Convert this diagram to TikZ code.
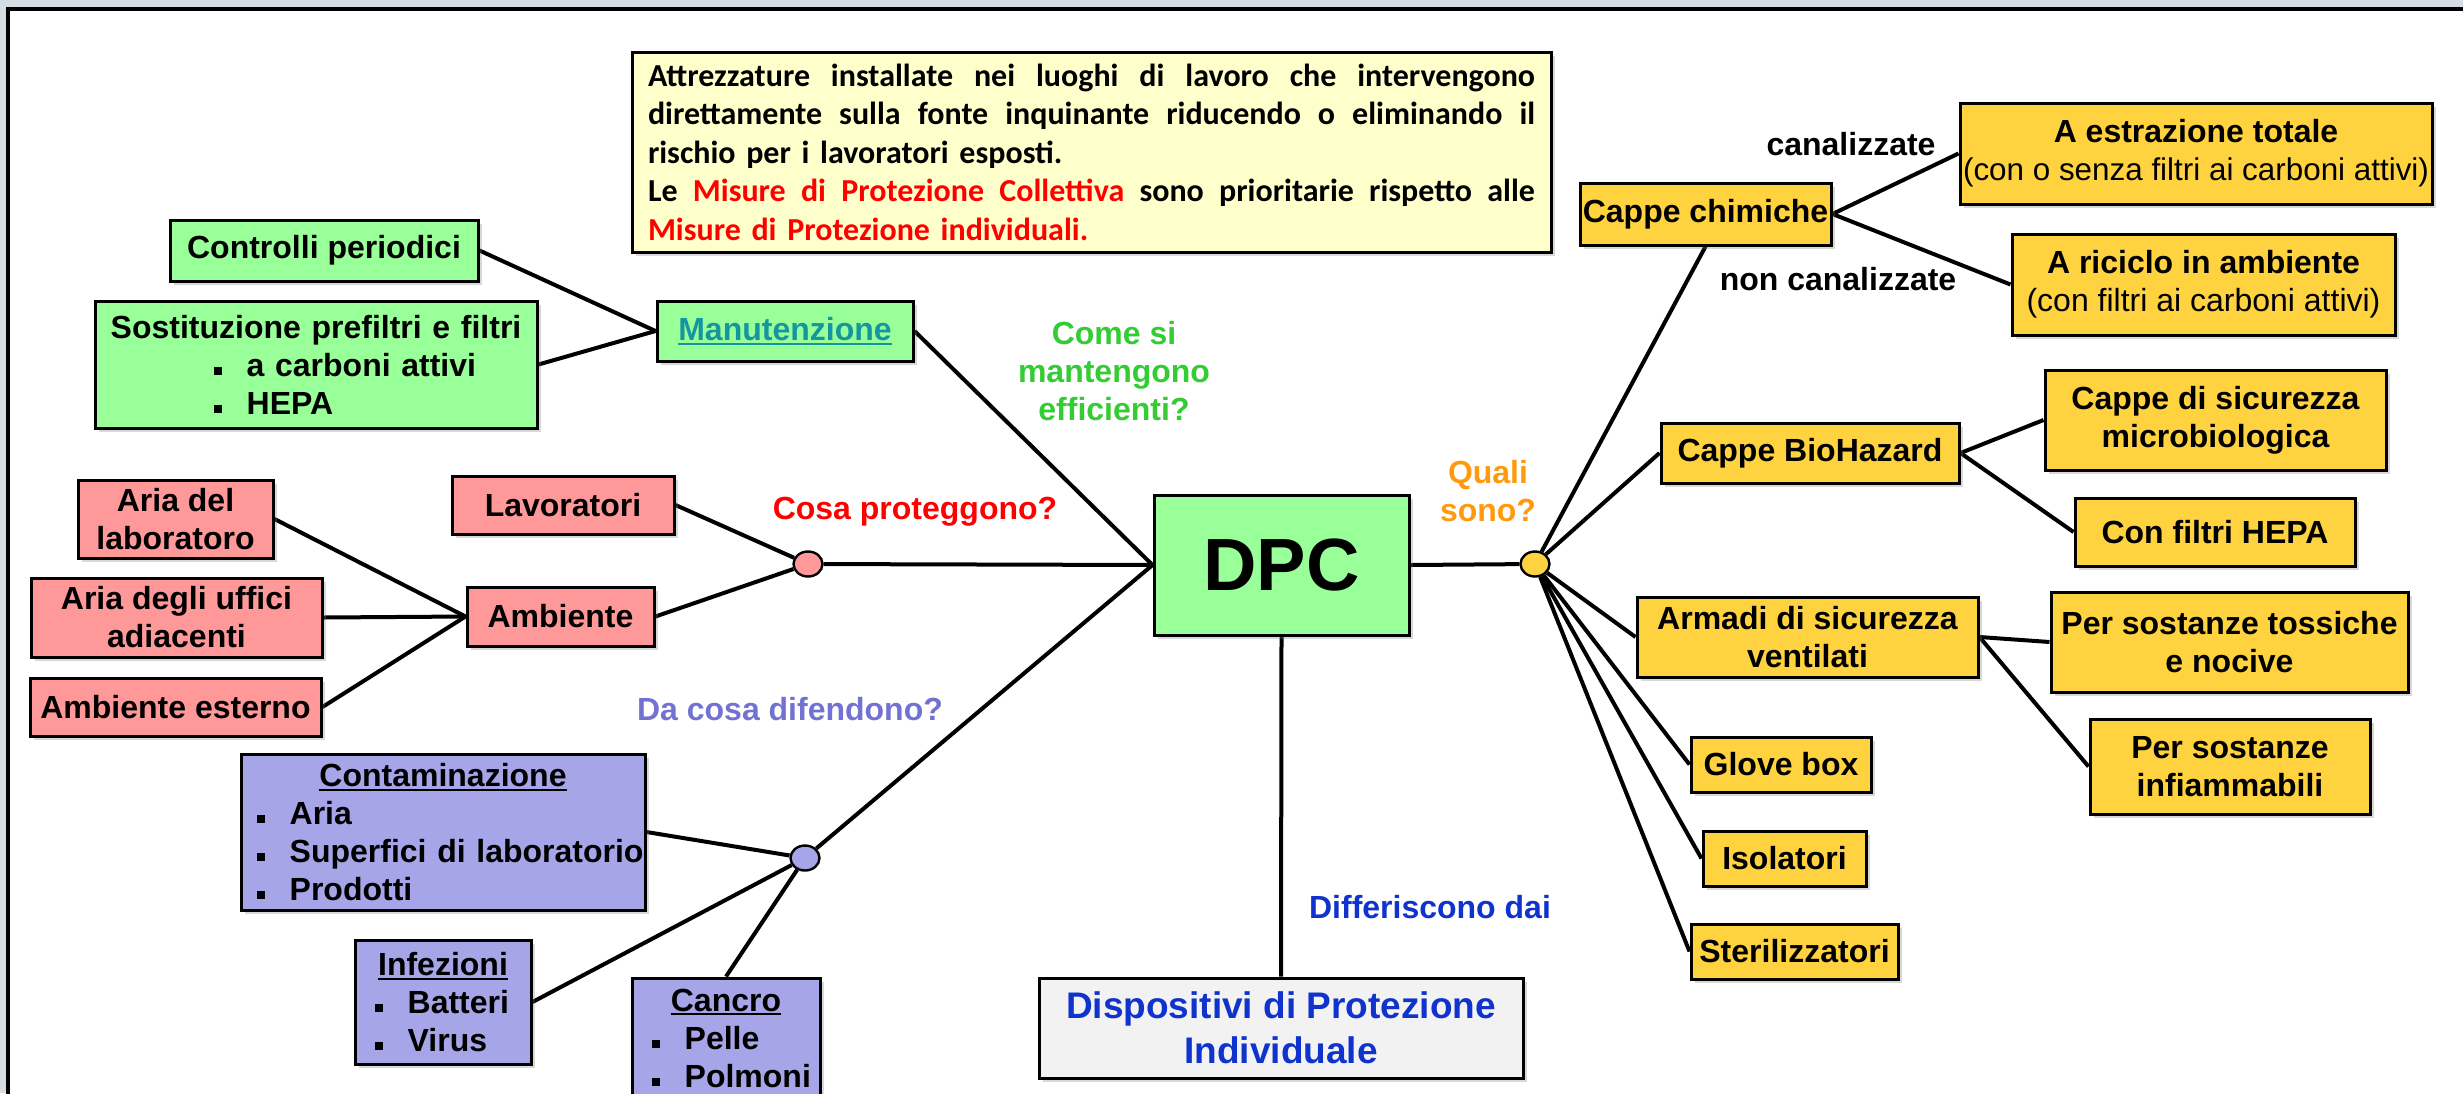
\documentclass[tikz,border=0pt]{standalone}
\usepackage{fontspec}
\setmainfont{Liberation Sans}
\newfontfamily\calib{Carlito}
\usetikzlibrary{shapes.geometric,shadows}
\definecolor{gfill}{HTML}{99FF99}
\definecolor{rfill}{HTML}{FF9999}
\definecolor{lfill}{HTML}{A5A5E8}
\definecolor{yfill}{HTML}{FFD23F}
\definecolor{nfill}{HTML}{FFFFCC}
\definecolor{dpifill}{HTML}{F2F2F2}
\definecolor{linkc}{HTML}{1496A0}
\definecolor{qgreen}{HTML}{33CC33}
\definecolor{qorange}{HTML}{FF9A0E}
\definecolor{qblue}{HTML}{7272D2}
\definecolor{dblue}{HTML}{0F33CC}
\definecolor{stripc}{HTML}{D5DCE4}
\newcommand\sqb{\raisebox{0.04em}{\rule{0.24em}{0.24em}}}
\newcommand\uln[1]{\setbox0\hbox{#1}\rlap{\rule[-2.2pt]{\wd0}{1pt}}\box0}
\newcommand\itm[1]{\mbox{\sqb\hspace{12.5pt}#1}}
\newcommand\jline[1]{\leavevmode\hbox to 443.5pt{\spaceskip=0pt\xspaceskip=0pt\relax #1}}
\newcommand\bx[7]{\node[#6, minimum width={(#4-#2)*0.5pt}, minimum height={(#5-#3)*0.5pt}] (#1) at ({(#2+#4)/2},{(#3+#5)/2}) {#7};}
\pgfdeclarelayer{back}
\pgfdeclarelayer{bg}
\pgfsetlayers{back,bg,main}
\tikzset{
  basebox/.style={draw, line width=1.5pt, inner sep=0pt, align=center,
    font=\fontsize{16}{19}\selectfont\bfseries,
    drop shadow={shadow xshift=2pt, shadow yshift=-2pt, opacity=0.3}},
  gbox/.style={basebox, fill=gfill},
  rbox/.style={basebox, fill=rfill},
  lbox/.style={basebox, fill=lfill},
  ybox/.style={basebox, fill=yfill},
  dotnode/.style={ellipse, draw, line width=1.2pt, inner sep=0pt, minimum width=14.5pt, minimum height=12.5pt},
  conn/.style={line width=2pt},
  lbl/.style={font=\fontsize{16}{19}\selectfont\bfseries, inner sep=0pt, anchor=base},
  mlbl/.style={font=\fontsize{16}{19}\selectfont\bfseries, inner sep=0pt, align=center},
}
\begin{document}
\begin{tikzpicture}[x=0.5pt,y=-0.5pt]
\useasboundingbox (0,0) rectangle (2463,1093);
\begin{pgfonlayer}{back}
  \fill[stripc] (0,0) rectangle (2463,1093);
  \fill[white] (7.5,9) rectangle (2480,1110);
  \draw[line width=2pt] (7.5,1110) -- (7.5,9) -- (2480,9);
\end{pgfonlayer}

% note
\bx{note}{632}{52}{1551}{252}{basebox, fill=nfill, align=left, text width=443.5pt, font=\calib\fontsize{16}{19.25}\selectfont\bfseries}{%
\jline{Attrezzature installate nei luoghi di lavoro che intervengono}\\
\jline{direttamente sulla fonte inquinante riducendo o eliminando il}\\
\mbox{rischio per i lavoratori esposti.}\\
\jline{Le \textcolor{red}{Misure di Protezione Collettiva} sono prioritarie rispetto alle}\\
\mbox{\textcolor{red}{Misure di Protezione individuali.}}}

% green
\bx{ctrl}{170}{220}{478}{281}{gbox}{Controlli periodici}
\bx{sost}{95}{301}{537}{428}{gbox, align=left, text width=213pt}{%
\makebox[213pt]{Sostituzione prefiltri e filtri}\\
\hspace*{55.5pt}\itm{a carboni attivi}\\
\hspace*{55.5pt}\itm{HEPA}}
\bx{manut}{657}{301}{913}{361}{gbox}{\textcolor{linkc}{\uln{Manutenzione}}}
\bx{dpc}{1154}{495}{1409}{635}{gbox, font=\fontsize{37}{44}\selectfont\bfseries}{DPC}

% red
\bx{lav}{452}{476}{674}{534}{rbox}{Lavoratori}
\bx{amb}{467}{587}{654}{646}{rbox}{Ambiente}
\bx{arialab}{78}{480}{273}{558}{rbox}{Aria del\\laboratoro}
\bx{uffici}{31}{578}{322}{657}{rbox}{Aria degli uffici\\adiacenti}
\bx{esterno}{30}{678}{321}{736}{rbox}{Ambiente esterno}

% lavender
\bx{cont}{241}{754}{645}{910}{lbox, align=left, text width=186pt}{%
\makebox[186pt]{\uln{Contaminazione}}\\
\itm{Aria}\\
\itm{Superfici di laboratorio}\\
\itm{Prodotti}}
\bx{infez}{355}{940}{531}{1064}{lbox, align=left, text width=68pt}{%
\makebox[68pt]{\uln{Infezioni}}\\
\itm{Batteri}\\
\itm{Virus}}
\bx{cancro}{632}{978}{820}{1098}{lbox, align=left, text width=74pt}{%
\makebox[74pt]{\uln{Cancro}}\\
\itm{Pelle}\\
\itm{Polmoni}}

% yellow
\bx{chim}{1580}{183}{1831}{245}{ybox}{Cappe chimiche}
\bx{estr}{1960}{103}{2432}{204}{ybox}{A estrazione totale\\{\mdseries\fontsize{15.7}{19}\selectfont(con o senza filtri ai carboni attivi)}}
\bx{ricic}{2012}{234}{2395}{335}{ybox}{A riciclo in ambiente\\{\mdseries(con filtri ai carboni attivi)}}
\bx{bio}{1661}{423}{1959}{483}{ybox}{Cappe BioHazard}
\bx{micro}{2045}{370}{2386}{470}{ybox}{Cappe di sicurezza\\microbiologica}
\bx{hepa}{2075}{498}{2355}{566}{ybox}{Con filtri HEPA}
\bx{arm}{1637}{597}{1978}{677}{ybox}{Armadi di sicurezza\\ventilati}
\bx{toss}{2051}{592}{2408}{692}{ybox}{Per sostanze tossiche\\e nocive}
\bx{infiam}{2090}{719}{2370}{814}{ybox}{Per sostanze\\infiammabili}
\bx{glove}{1691}{737}{1871}{792}{ybox}{Glove box}
\bx{iso}{1703}{831}{1866}{886}{ybox}{Isolatori}
\bx{steril}{1691}{924}{1898}{979}{ybox}{Sterilizzatori}

% DPI
\bx{dpi}{1039}{978}{1523}{1078}{basebox, fill=dpifill, text=dblue, font=\fontsize{18.5}{22.5}\selectfont\bfseries}{Dispositivi di Protezione\\Individuale}

% dots
\node[dotnode, fill=rfill] (rdot) at (808,564) {};
\node[dotnode, fill=yfill] (ydot) at (1535,564) {};
\node[dotnode, fill=lfill] (bdot) at (805,858) {};

% labels
\node[lbl, text=red] (lcosa) at (915,519) {Cosa proteggono?};
\node[lbl, text=qblue] (lda) at (790,720) {Da cosa difendono?};
\node[lbl, text=dblue] (ldiff) at (1430,918) {Differiscono dai};
\node[mlbl, text=qgreen] (lcome) at (1114,371) {Come si\\mantengono\\efficienti?};
\node[mlbl, text=qorange] (lquali) at (1488,491) {Quali\\sono?};
\node[lbl] (lcan) at (1851,155) {canalizzate};
\node[lbl] (lnoncan) at (1838,290) {non canalizzate};

\begin{pgfonlayer}{bg}
  \draw[conn] (ctrl.east) -- (manut.west);
  \draw[conn] (sost.east) -- (manut.west);
  \draw[conn] (manut.east) -- (dpc.west);
  \draw[conn] (lav.east) -- (rdot);
  \draw[conn] (amb.east) -- (rdot);
  \draw[conn] (rdot) -- (dpc.west);
  \draw[conn] (arialab.east) -- (amb.west);
  \draw[conn] (uffici.east) -- (amb.west);
  \draw[conn] (esterno.east) -- (amb.west);
  \draw[conn] (cont.east) -- (bdot);
  \draw[conn] (infez.east) -- (bdot);
  \draw[conn] (cancro.north) -- (bdot);
  \draw[conn] (bdot) -- (dpc.west);
  \draw[conn] (dpc.south) -- (dpi.north);
  \draw[conn] (dpc.east) -- (ydot);
  \draw[conn] (ydot) -- (chim.south);
  \draw[conn] (ydot) -- (bio.west);
  \draw[conn] (ydot) -- (arm.west);
  \draw[conn] (ydot) -- (glove.west);
  \draw[conn] (ydot) -- (iso.west);
  \draw[conn] (ydot) -- (steril.west);
  \draw[conn] (chim.east) -- (estr.west);
  \draw[conn] (chim.east) -- (ricic.west);
  \draw[conn] (bio.east) -- (micro.west);
  \draw[conn] (bio.east) -- (hepa.west);
  \draw[conn] (arm.east) -- (toss.west);
  \draw[conn] (arm.east) -- (infiam.west);
\end{pgfonlayer}
\end{tikzpicture}
\end{document}
